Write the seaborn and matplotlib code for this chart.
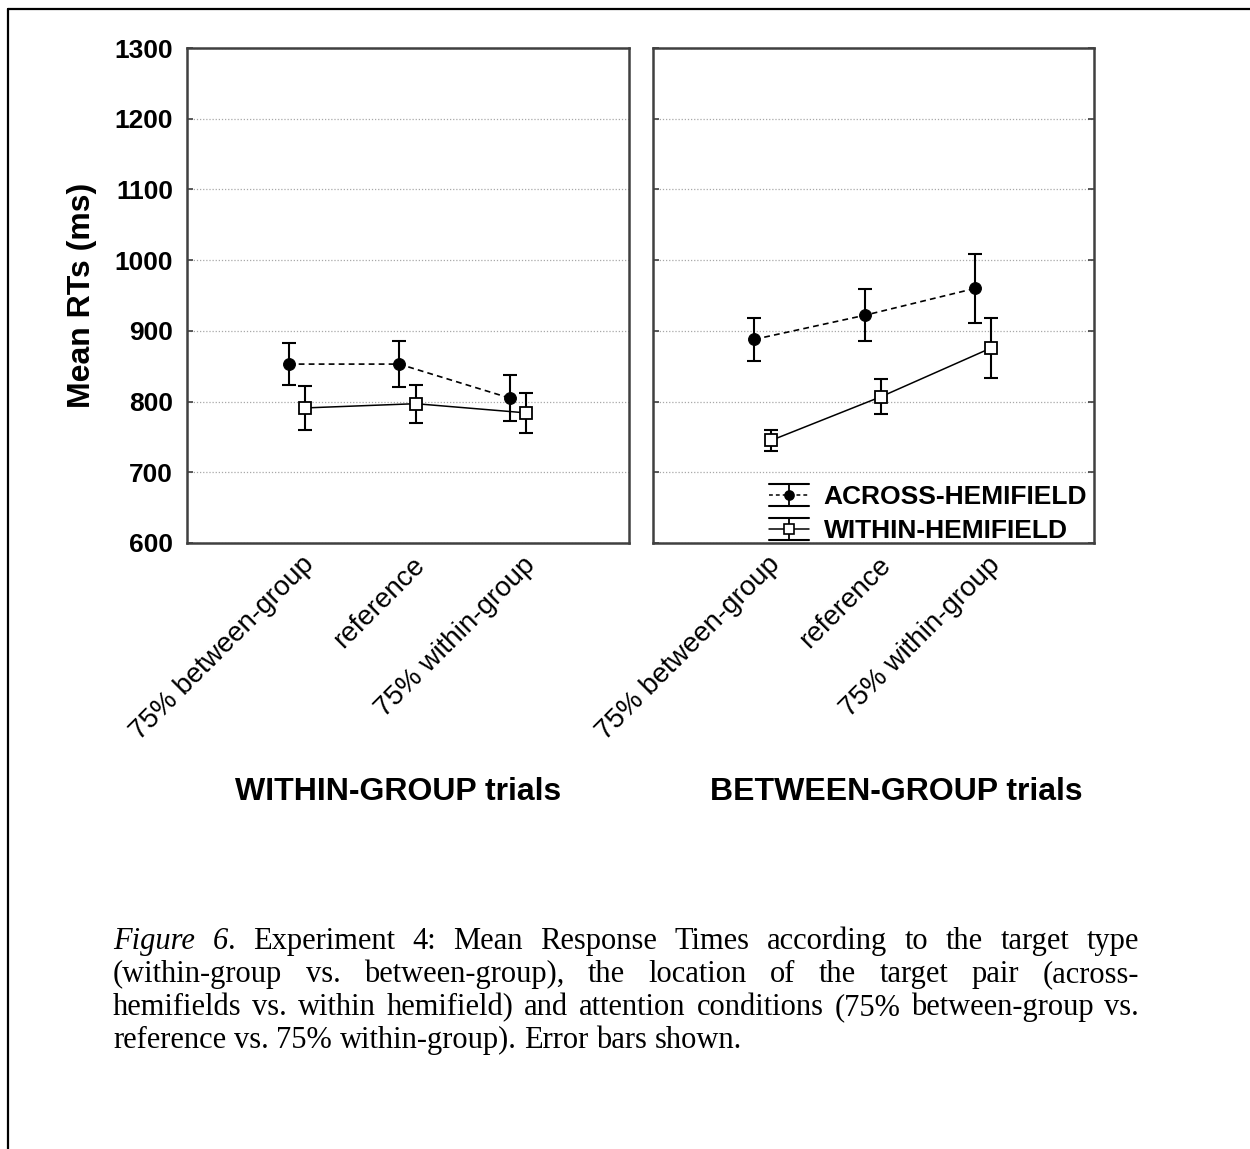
import numpy as np
import pandas as pd
import matplotlib
matplotlib.use("Agg")
import matplotlib.pyplot as plt
import seaborn as sns
from matplotlib.lines import Line2D
from matplotlib.legend_handler import HandlerBase
import matplotlib.transforms as mtransforms

# ---- data -------------------------------------------------------------
conditions = ["75% between-group", "reference", "75% within-group"]

# WITHIN-GROUP trials
wg_across = [853, 853, 805]
wg_across_err = [30, 32, 32]
wg_within = [791, 797, 784]
wg_within_err = [31, 27, 28]

# BETWEEN-GROUP trials
bg_across = [888, 922, 960]
bg_across_err = [30, 37, 49]
bg_within = [745, 807, 876]
bg_within_err = [15, 25, 42]

series_names = ["ACROSS-HEMIFIELD", "WITHIN-HEMIFIELD"]
panel_titles = ["WITHIN-GROUP trials", "BETWEEN-GROUP trials"]
y_label = "Mean RTs (ms)"

caption_lines = [
    [[("Figure", "italic")], [("6", "italic"), (".", "normal")], [("Experiment", "normal")],
     [("4:", "normal")], [("Mean", "normal")], [("Response", "normal")], [("Times", "normal")],
     [("according", "normal")], [("to", "normal")], [("the", "normal")], [("target", "normal")],
     [("type", "normal")]],
    "(within-group vs. between-group), the location of the target pair (across-",
    "hemifields vs. within hemifield) and attention conditions (75% between-group vs.",
    "reference vs. 75% within-group). Error bars shown.",
]

# ---- style ------------------------------------------------------------
sns.set_theme(style="white")
plt.rcParams["font.family"] = ["Liberation Sans", "DejaVu Sans"]
plt.rcParams["text.color"] = "black"
plt.rcParams["axes.labelcolor"] = "black"
plt.rcParams["xtick.color"] = "black"
plt.rcParams["ytick.color"] = "black"

W, H = 1250, 1149
fig = plt.figure(figsize=(W / 100, H / 100), dpi=100)
fig.patch.set_facecolor("white")


def fx(px):
    return px / W


def fy(py):
    return 1 - py / H


ax_top, ax_bot = 48, 543
ax_left = fig.add_axes([fx(187), fy(ax_bot), fx(442), (ax_bot - ax_top) / H])
ax_right = fig.add_axes([fx(653), fy(ax_bot), fx(441), (ax_bot - ax_top) / H])

x_pos = np.arange(1, len(conditions) + 1)
off_across, off_within = -0.08, 0.07

panels = [
    (ax_left, wg_across, wg_across_err, wg_within, wg_within_err),
    (ax_right, bg_across, bg_across_err, bg_within, bg_within_err),
]

for ax, acr, acr_e, wit, wit_e in panels:
    ax.set_facecolor("white")
    df_a = pd.DataFrame({"x": x_pos + off_across, "y": acr})
    df_w = pd.DataFrame({"x": x_pos + off_within, "y": wit})

    ax.errorbar(df_a["x"], df_a["y"], yerr=acr_e, fmt="none", ecolor="black",
                elinewidth=1.5, capsize=4.8, capthick=1.5, zorder=3)
    ax.errorbar(df_w["x"], df_w["y"], yerr=wit_e, fmt="none", ecolor="black",
                elinewidth=1.5, capsize=4.8, capthick=1.5, zorder=3)

    sns.lineplot(data=df_a, x="x", y="y", ax=ax, color="black", linewidth=1.2,
                 linestyle=(0, (3.5, 2.5)), marker="o", markersize=8.5,
                 markerfacecolor="black", markeredgecolor="black", zorder=4)
    sns.lineplot(data=df_w, x="x", y="y", ax=ax, color="black", linewidth=1.1,
                 linestyle="-", marker="s", markersize=9,
                 markerfacecolor="white", markeredgecolor="black",
                 markeredgewidth=1.3, zorder=4)

    ax.set_xlim(0, 4)
    ax.set_ylim(600, 1300)
    ax.set_yticks(np.arange(600, 1301, 100))
    ax.set_xticks(x_pos)
    ax.set_xlabel("")
    ax.set_ylabel("")
    ax.yaxis.grid(True, linestyle=(0, (1, 1.5)), color="#a8a8a8", linewidth=0.9)
    ax.xaxis.grid(False)
    for sp in ax.spines.values():
        sp.set_color("#404040")
        sp.set_linewidth(1.8)
        sp.set_visible(True)
    ax.tick_params(axis="both", direction="in", length=4, width=1.2,
                   color="#404040", labelcolor="black")
    ax.set_xticklabels(conditions, fontsize=20, rotation=45, ha="right",
                       va="center", rotation_mode="anchor", color="black")
    shift = mtransforms.ScaledTranslation(13 / 100, -13 / 100, fig.dpi_scale_trans)
    for lab in ax.get_xticklabels():
        lab.set_transform(lab.get_transform() + shift)

ax_left.tick_params(axis="y", left=True, right=False, labelsize=19, pad=10)
for lab in ax_left.get_yticklabels():
    lab.set_fontweight("bold")
ax_right.tick_params(axis="y", left=True, right=True, labelleft=False)

# ---- legend with error-bar glyphs -----------------------------------


class ErrorbarGlyph(HandlerBase):
    def __init__(self, ls, marker, mfc, ms):
        super().__init__()
        self.ls, self.marker, self.mfc, self.ms = ls, marker, mfc, ms

    def create_artists(self, legend, orig_handle, xdescent, ydescent, width,
                       height, fontsize, trans):
        x0, x1 = -xdescent, width - xdescent
        cx = (x0 + x1) / 2
        cy = height / 2 - ydescent
        half = 0.6 * height
        arts = [
            Line2D([x0, x1], [cy, cy], color="black", lw=1.1, linestyle=self.ls),
            Line2D([cx, cx], [cy - half, cy + half], color="black", lw=1.3),
            Line2D([x0, x1], [cy + half, cy + half], color="black", lw=1.5),
            Line2D([x0, x1], [cy - half, cy - half], color="black", lw=1.5),
            Line2D([cx], [cy], marker=self.marker, markersize=self.ms,
                   markerfacecolor=self.mfc, markeredgecolor="black",
                   markeredgewidth=1.2, linestyle="none"),
        ]
        for a in arts:
            a.set_transform(trans)
        return arts


h_a = Line2D([], [], label=series_names[0])
h_w = Line2D([], [], label=series_names[1])
leg = ax_right.legend(
    handles=[h_a, h_w], labels=series_names, loc="lower right",
    bbox_to_anchor=(1 - 7 / 441, 0.0), frameon=False,
    prop={"weight": "bold", "size": 19}, handlelength=1.52, handletextpad=0.55,
    labelspacing=0.38, borderpad=0, borderaxespad=0,
    handler_map={h_a: ErrorbarGlyph((0, (2.5, 2)), "o", "black", 6.5),
                 h_w: ErrorbarGlyph("-", "s", "white", 7)},
)
for t in leg.get_texts():
    t.set_color("black")

# ---- axis label and panel titles -------------------------------------
fig.text(fx(82), fy(295), y_label, rotation=90, ha="center", va="center",
         fontsize=23, fontweight="bold", color="black")
fig.text(fx(398), fy(792), panel_titles[0], ha="center", va="center",
         fontsize=23, fontweight="bold", color="black")
fig.text(fx(896), fy(792), panel_titles[1], ha="center", va="center",
         fontsize=23, fontweight="bold", color="black")

# ---- page frame ------------------------------------------------------
fig.add_artist(Line2D([fx(8), 1.0], [fy(9), fy(9)], transform=fig.transFigure,
                      color="black", lw=1.6))
fig.add_artist(Line2D([fx(8), fx(8)], [fy(9), 0.0], transform=fig.transFigure,
                      color="black", lw=1.6))

# ---- justified caption -----------------------------------------------
renderer = fig.canvas.get_renderer()
cap_font = dict(family=["Liberation Serif", "DejaVu Serif"], size=22, color="black")


def seg_width(text, style):
    t = fig.text(0, 0, text, fontstyle=style, **cap_font)
    w = t.get_window_extent(renderer).width
    t.remove()
    return w


space_w = seg_width("n n", "normal") - seg_width("nn", "normal")
left_px, right_px = 113, 1139
baselines = [949, 982, 1015, 1048]

for i, line in enumerate(caption_lines):
    if isinstance(line, str):
        words = [[(w, "normal")] for w in line.split(" ")]
    else:
        words = line
    widths = [sum(seg_width(s, st) for s, st in wd) for wd in words]
    justify = i < len(caption_lines) - 1
    if justify:
        gap = (right_px - left_px - sum(widths)) / (len(words) - 1)
    else:
        gap = space_w
    x = left_px
    for wd, ww in zip(words, widths):
        xx = x
        for s, st in wd:
            fig.text(fx(xx), fy(baselines[i]), s, fontstyle=st, ha="left",
                     va="baseline", **cap_font)
            xx += seg_width(s, st)
        x += ww + gap

fig.savefig("out.png", dpi=100, facecolor="white")
